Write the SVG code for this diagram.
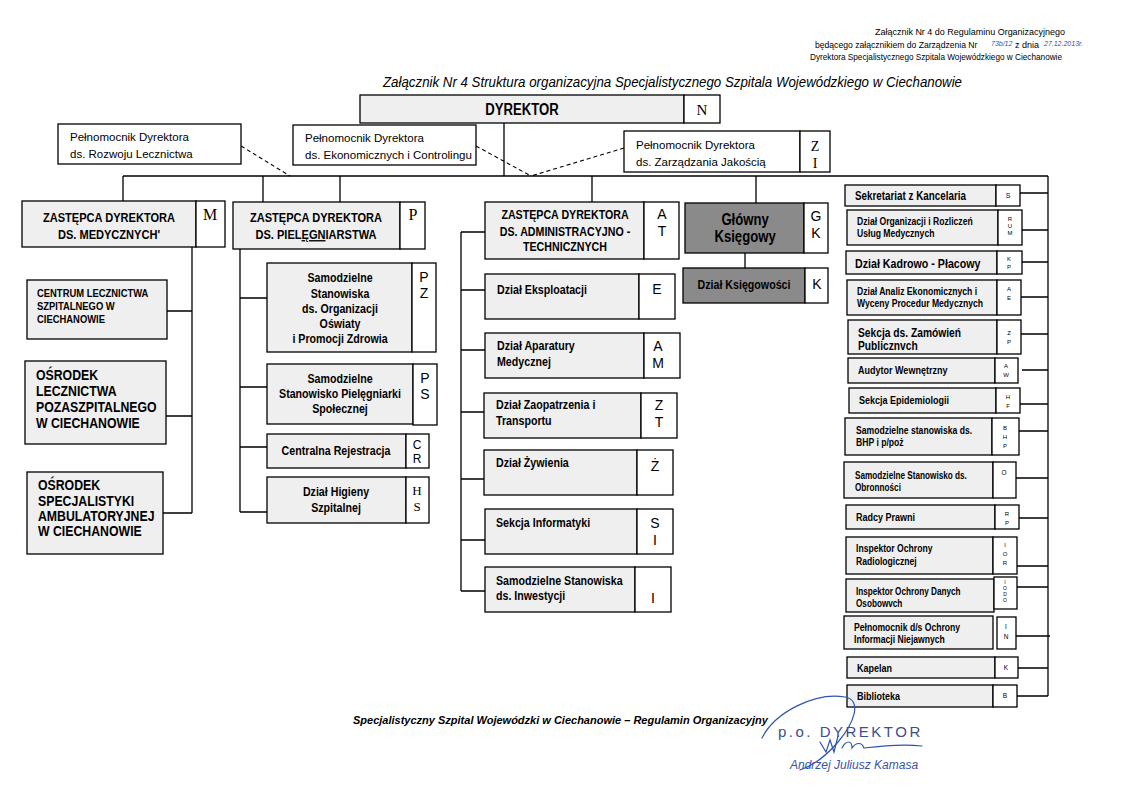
<svg xmlns="http://www.w3.org/2000/svg" width="1123" height="794" viewBox="0 0 1123 794">
<style>
.bx{fill:#efefef;stroke:#000;stroke-width:1.3}
.wb{fill:#fff;stroke:#000;stroke-width:1.3}
.dk{fill:#8a8a8a;stroke:#000;stroke-width:1.3}
.ln{fill:none;stroke:#000;stroke-width:1.3}
.ds{fill:none;stroke:#000;stroke-width:1.1;stroke-dasharray:4 3}
.n{font-family:"Liberation Sans",Arial,sans-serif;font-weight:bold;fill:#000;transform-box:fill-box;transform-origin:0 50%;transform:scaleX(0.82)}
.n.c{transform-origin:50% 50%}
.r{font-family:"Liberation Sans",Arial,sans-serif;fill:#000}
.s{font-family:"Liberation Serif","Times New Roman",serif;fill:#000}
.c{text-anchor:middle}
.hw{font-family:"Liberation Sans",Arial,sans-serif;font-style:italic;fill:#3050b0}
.sig{fill:none;stroke:#2f55b0;stroke-width:1.2;stroke-linecap:round}
</style>

<g id="header">
<text class="r" x="875" y="35" font-size="9.5" textLength="190" lengthAdjust="spacingAndGlyphs">Załącznik Nr 4 do Regulaminu Organizacyjnego</text>
<text class="r" x="815" y="48" font-size="8.6">będącego załącznikiem do Zarządzenia Nr</text>
<text class="hw" x="991" y="46" font-size="7">73b/12</text>
<text class="r" x="1015" y="48" font-size="9">z dnia</text>
<text class="hw" x="1044" y="46" font-size="7">27.12.2013r.</text>
<text class="r" x="810" y="60" font-size="9.5" textLength="252" lengthAdjust="spacingAndGlyphs">Dyrektora Specjalistycznego Szpitala Wojewódzkiego w Ciechanowie</text>
<text class="r" x="383" y="87" font-size="14" font-style="italic" textLength="579" lengthAdjust="spacingAndGlyphs">Załącznik Nr 4 Struktura organizacyjna Specjalistycznego Szpitala Wojewódzkiego w Ciechanowie</text>
</g>

<g id="connectors">
<path class="ln" d="M504,123 V176 M123,176 H1048 M123,176 V201 M263,176 V202 M340,176 V202 M592,176 V202 M756,176 V203 M1048,176 V696"/>
<path class="ds" d="M241,146 L290,176 M476,146 L531,176 M624,148 L531,176"/>
<path class="ln" d="M192,247 V513 M167,311 H192 M166,416 H192 M163,513 H192"/>
<path class="ln" d="M240,249 V512 M240,298 H267 M240,387 H267 M240,447 H267 M240,512 H267"/>
<path class="ln" d="M461,232 V591 M461,232 H485 M461,290 H485 M461,350 H485 M461,412 H484 M461,479 H484 M461,540 H485 M461,591 H485"/>
<path class="ln" d="M745,253 V268"/>
<path class="ln" d="M1020,193 H1048 M1022,230 H1048 M1022,262 H1048 M1021,297 H1048 M1021,334 H1048 M1022,370 H1048 M1020,404 H1048 M1019,431 H1048 M1016,478 H1048 M1019,518 H1048 M1017,566 H1048 M1017,587 H1048 M1016,636 H1050 M1018,668 H1048 M1017,696 H1048"/>
</g>

<g id="dyrektor">
<rect class="bx" x="360" y="95" width="324" height="28"/><rect class="wb" x="684" y="95" width="36" height="28"/>
<text class="n c" x="522" y="115" font-size="16">DYREKTOR</text>
<text class="s c" x="702" y="115" font-size="15">N</text>
</g>
<g id="pelnomocnik-rozwoju">
<rect class="wb" x="58" y="124" width="183" height="40"/>
<text class="r" x="70" y="141" font-size="11.5">Pełnomocnik Dyrektora</text>
<text class="r" x="70" y="158" font-size="11.5">ds. Rozwoju Lecznictwa</text>
</g>
<g id="pelnomocnik-ekonomicznych">
<rect class="wb" x="293" y="125" width="183" height="40"/>
<text class="r" x="305" y="142" font-size="11.5">Pełnomocnik Dyrektora</text>
<text class="r" x="305" y="159" font-size="11.5">ds. Ekonomicznych i Controlingu</text>
</g>
<g id="pelnomocnik-jakosci">
<rect class="wb" x="624" y="131" width="176" height="41"/><rect class="wb" x="800" y="131" width="30" height="41"/>
<text class="r" x="636" y="149" font-size="11.5">Pełnomocnik Dyrektora</text>
<text class="r" x="636" y="166" font-size="11.5">ds. Zarządzania Jakością</text>
<text class="s c" x="815" y="151" font-size="14">Z</text>
<text class="s c" x="815" y="168" font-size="14">I</text>
</g>

<g id="zdm">
<rect class="bx" x="22" y="201" width="174" height="46"/><rect class="wb" x="196" y="201" width="29" height="46"/>
<text class="n c" x="109" y="222" font-size="13.5">ZASTĘPCA DYREKTORA</text>
<text class="n c" x="109" y="239" font-size="13.5">DS. MEDYCZNYCH'</text>
<text class="s c" x="210" y="220" font-size="16">M</text>
</g>
<g id="centrum">
<rect class="bx" x="27" y="280" width="140" height="59"/>
<text class="n" x="37" y="297" font-size="11.5">CENTRUM LECZNICTWA</text>
<text class="n" x="37" y="310" font-size="11.5">SZPITALNEGO W</text>
<text class="n" x="37" y="323" font-size="11.5">CIECHANOWIE</text>
</g>
<g id="osrodek-lecznictwa">
<rect class="bx" x="25" y="361" width="141" height="83"/>
<text class="n" x="36" y="380" font-size="15">OŚRODEK</text>
<text class="n" x="36" y="396" font-size="15">LECZNICTWA</text>
<text class="n" x="36" y="412" font-size="15">POZASZPITALNEGO</text>
<text class="n" x="36" y="428" font-size="15">W CIECHANOWIE</text>
</g>
<g id="osrodek-specjalistyki">
<rect class="bx" x="27" y="472" width="136" height="82"/>
<text class="n" x="38" y="490" font-size="15">OŚRODEK</text>
<text class="n" x="38" y="506" font-size="15">SPECJALISTYKI</text>
<text class="n" x="38" y="521" font-size="15">AMBULATORYJNEJ</text>
<text class="n" x="38" y="536" font-size="15">W CIECHANOWIE</text>
</g>

<g id="zdp">
<rect class="bx" x="233" y="202" width="167" height="47"/><rect class="wb" x="400" y="202" width="25" height="47"/>
<text class="n c" x="316" y="222" font-size="13.5">ZASTĘPCA  DYREKTORA</text>
<text class="n c" x="316" y="239" font-size="13.5">DS. PIEL<tspan text-decoration="underline">ĘGN</tspan>IARSTWA</text>
<text class="s c" x="413" y="220" font-size="16">P</text>
</g>
<g id="pz">
<rect class="bx" x="267" y="263" width="145" height="89"/><rect class="wb" x="412" y="263" width="24" height="89"/>
<text class="n c" x="340" y="282" font-size="13">Samodzielne</text>
<text class="n c" x="340" y="298" font-size="13">Stanowiska</text>
<text class="n c" x="340" y="313" font-size="13">ds.  Organizacji</text>
<text class="n c" x="340" y="328" font-size="13">Oświaty</text>
<text class="n c" x="340" y="343" font-size="13">i Promocji Zdrowia</text>
<text class="r c" x="424" y="282" font-size="14">P</text>
<text class="r c" x="424" y="298" font-size="14">Z</text>
</g>
<g id="ps">
<rect class="bx" x="267" y="364" width="146" height="60"/><rect class="wb" x="413" y="364" width="24" height="61"/>
<text class="n c" x="340" y="383" font-size="13">Samodzielne</text>
<text class="n c" x="340" y="398" font-size="13">Stanowisko Pielęgniarki</text>
<text class="n c" x="340" y="413" font-size="13">Społecznej</text>
<text class="r c" x="425" y="383" font-size="14">P</text>
<text class="r c" x="425" y="399" font-size="14">S</text>
</g>
<g id="cr">
<rect class="bx" x="267" y="434" width="139" height="34"/><rect class="wb" x="406" y="434" width="23" height="34"/>
<text class="n c" x="336" y="455" font-size="13">Centralna Rejestracja</text>
<text class="r c" x="417" y="449" font-size="12">C</text>
<text class="r c" x="417" y="463" font-size="12">R</text>
</g>
<g id="hs">
<rect class="bx" x="267" y="477" width="139" height="46"/><rect class="wb" x="406" y="477" width="23" height="46"/>
<text class="n c" x="336" y="496" font-size="13">Dział Higieny</text>
<text class="n c" x="336" y="512" font-size="13">Szpitalnej</text>
<text class="s c" x="417" y="495" font-size="13">H</text>
<text class="s c" x="417" y="511" font-size="13">S</text>
</g>

<g id="at">
<rect class="bx" x="485" y="202" width="159" height="57"/><rect class="wb" x="644" y="202" width="35" height="57"/>
<text class="n c" x="565" y="219" font-size="13">ZASTĘPCA DYREKTORA</text>
<text class="n c" x="565" y="236" font-size="13">DS. ADMINISTRACYJNO -</text>
<text class="n c" x="565" y="251" font-size="13">TECHNICZNYCH</text>
<text class="r c" x="662" y="219" font-size="14">A</text>
<text class="r c" x="662" y="236" font-size="14">T</text>
</g>
<g id="e">
<rect class="bx" x="485" y="274" width="154" height="45"/><rect class="wb" x="639" y="274" width="36" height="45"/>
<text class="n" x="497" y="294" font-size="13">Dział Eksploatacji</text>
<text class="r c" x="657" y="294" font-size="14">E</text>
</g>
<g id="am">
<rect class="bx" x="485" y="333" width="159" height="45"/><rect class="wb" x="644" y="333" width="36" height="45"/>
<text class="n" x="497" y="350" font-size="13">Dział Aparatury</text>
<text class="n" x="497" y="366" font-size="13">Medycznej</text>
<text class="r c" x="658" y="351" font-size="14">A</text>
<text class="r c" x="658" y="368" font-size="14">M</text>
</g>
<g id="zt">
<rect class="bx" x="484" y="393" width="157" height="45"/><rect class="wb" x="641" y="393" width="36" height="45"/>
<text class="n" x="496" y="409" font-size="13">Dział Zaopatrzenia i</text>
<text class="n" x="496" y="425" font-size="13">Transportu</text>
<text class="r c" x="659" y="410" font-size="14">Z</text>
<text class="r c" x="659" y="427" font-size="14">T</text>
</g>
<g id="zywienie">
<rect class="bx" x="484" y="450" width="153" height="45"/><rect class="wb" x="637" y="450" width="36" height="45"/>
<text class="n" x="496" y="467" font-size="13">Dział  Żywienia</text>
<text class="r c" x="655" y="471" font-size="14">Ż</text>
</g>
<g id="si">
<rect class="bx" x="485" y="509" width="152" height="45"/><rect class="wb" x="637" y="509" width="36" height="45"/>
<text class="n" x="496" y="527" font-size="13">Sekcja Informatyki</text>
<text class="r c" x="655" y="528" font-size="14">S</text>
<text class="r c" x="655" y="545" font-size="14">I</text>
</g>
<g id="inwestycje">
<rect class="bx" x="485" y="567" width="150" height="45"/><rect class="wb" x="635" y="567" width="36" height="45"/>
<text class="n" x="496" y="585" font-size="13">Samodzielne Stanowiska</text>
<text class="n" x="496" y="600" font-size="13">ds. Inwestycji</text>
<text class="r c" x="653" y="603" font-size="14">I</text>
</g>

<g id="gk">
<rect class="dk" x="685" y="203" width="119" height="50"/><rect class="wb" x="804" y="203" width="24" height="50"/>
<text class="n c" x="745" y="225" font-size="16">Główny</text>
<text class="n c" x="745" y="242" font-size="16">Księgowy</text>
<text class="r c" x="816" y="221" font-size="14">G</text>
<text class="r c" x="816" y="238" font-size="14">K</text>
</g>
<g id="ksiegowosc">
<rect class="dk" x="683" y="268" width="122" height="35"/><rect class="wb" x="805" y="268" width="23" height="35"/>
<text class="n c" x="744" y="289" font-size="13">Dział Księgowości</text>
<text class="r c" x="817" y="289" font-size="14">K</text>
</g>

<g id="sekretariat">
<rect class="bx" x="845" y="185" width="151" height="21"/><rect class="wb" x="996" y="185" width="24" height="21"/>
<text class="n" x="855" y="200" font-size="12">Sekretariat z Kancelaria</text>
<text class="r c" x="1008" y="198" font-size="7">S</text>
</g>
<g id="rum">
<rect class="bx" x="847" y="210" width="151" height="35"/><rect class="wb" x="998" y="210" width="24" height="35"/>
<text class="n" x="857" y="225" font-size="10.5">Dział Organizacji i Rozliczeń</text>
<text class="n" x="857" y="237" font-size="10.5">Usług Medycznych</text>
<text class="r c" x="1010" y="221" font-size="6">R</text>
<text class="r c" x="1010" y="228" font-size="6">U</text>
<text class="r c" x="1010" y="235" font-size="6">M</text>
</g>
<g id="kp">
<rect class="bx" x="846" y="251" width="151" height="23"/><rect class="wb" x="997" y="251" width="25" height="23"/>
<text class="n" x="855" y="268" font-size="13">Dział Kadrowo - Płacowy</text>
<text class="r c" x="1009" y="261" font-size="6">K</text>
<text class="r c" x="1009" y="269" font-size="6">P</text>
</g>
<g id="ae">
<rect class="bx" x="847" y="280" width="150" height="35"/><rect class="wb" x="997" y="280" width="24" height="35"/>
<text class="n" x="857" y="295" font-size="10.5">Dział Analiz Ekonomicznych i</text>
<text class="n" x="857" y="307" font-size="10.5">Wyceny Procedur Medycznych</text>
<text class="r c" x="1009" y="291" font-size="6">A</text>
<text class="r c" x="1009" y="300" font-size="6">E</text>
</g>
<g id="zp">
<rect class="bx" x="848" y="320" width="149" height="34"/><rect class="wb" x="997" y="320" width="24" height="34"/>
<text class="n" x="858" y="337" font-size="12.5">Sekcja ds. Zamówień</text>
<text class="n" x="858" y="350" font-size="12.5">Publicznvch</text>
<text class="r c" x="1009" y="335" font-size="6">Z</text>
<text class="r c" x="1009" y="344" font-size="6">P</text>
</g>
<g id="aw">
<rect class="bx" x="848" y="358" width="147" height="25"/><rect class="wb" x="995" y="358" width="23" height="25"/>
<text class="n" x="858" y="374" font-size="11">Audytor Wewnętrzny</text>
<text class="r c" x="1006" y="368" font-size="6">A</text>
<text class="r c" x="1006" y="377" font-size="6">W</text>
</g>
<g id="hf">
<rect class="bx" x="849" y="388" width="147" height="25"/><rect class="wb" x="996" y="388" width="24" height="25"/>
<text class="n" x="859" y="404" font-size="11">Sekcja Epidemiologii</text>
<text class="r c" x="1008" y="399" font-size="6">H</text>
<text class="r c" x="1008" y="408" font-size="6">F</text>
</g>
<g id="bhp">
<rect class="bx" x="845" y="418" width="147" height="37"/><rect class="wb" x="992" y="418" width="27" height="37"/>
<text class="n" x="856" y="434" font-size="10.5">Samodzielne stanowiska ds.</text>
<text class="n" x="856" y="446" font-size="10.5">BHP i p/poż</text>
<text class="r c" x="1005" y="430" font-size="6">B</text>
<text class="r c" x="1005" y="439" font-size="6">H</text>
<text class="r c" x="1005" y="448" font-size="6">P</text>
</g>
<g id="obronnosc">
<rect class="bx" x="844" y="462" width="149" height="36"/><rect class="wb" x="993" y="462" width="23" height="36"/>
<text class="n" x="855" y="479" font-size="10">Samodzielne Stanowisko ds.</text>
<text class="n" x="855" y="491" font-size="10">Obronności</text>
<text class="r c" x="1004" y="475" font-size="6.5">O</text>
</g>
<g id="rp">
<rect class="bx" x="846" y="505" width="149" height="24"/><rect class="wb" x="995" y="505" width="24" height="24"/>
<text class="n" x="856" y="521" font-size="11">Radcy Prawni</text>
<text class="r c" x="1007" y="516" font-size="6">R</text>
<text class="r c" x="1007" y="525" font-size="6">P</text>
</g>
<g id="ior">
<rect class="bx" x="846" y="537" width="147" height="37"/><rect class="wb" x="993" y="537" width="24" height="37"/>
<text class="n" x="856" y="552" font-size="10.5">Inspektor Ochrony</text>
<text class="n" x="856" y="565" font-size="10.5">Radiologicznej</text>
<text class="r c" x="1005" y="547" font-size="6">I</text>
<text class="r c" x="1005" y="556" font-size="6">O</text>
<text class="r c" x="1005" y="565" font-size="6">R</text>
</g>
<g id="iodo">
<rect class="bx" x="846" y="579" width="148" height="33"/><rect class="wb" x="994" y="577" width="23" height="32"/>
<text class="n" x="856" y="595" font-size="10">Inspektor Ochrony Danych</text>
<text class="n" x="856" y="607" font-size="10">Osobowvch</text>
<text class="r c" x="1005" y="584" font-size="5">I</text>
<text class="r c" x="1005" y="590" font-size="5">O</text>
<text class="r c" x="1005" y="596" font-size="5">D</text>
<text class="r c" x="1005" y="602" font-size="5">O</text>
</g>
<g id="in">
<rect class="bx" x="844" y="616" width="149" height="33"/><rect class="wb" x="997" y="617" width="19" height="32"/>
<text class="n" x="854" y="631" font-size="10.5">Pełnomocnik d/s Ochrony</text>
<text class="n" x="854" y="643" font-size="10.5">Informacji Niejawnych</text>
<text class="r c" x="1006" y="629" font-size="6.5">I</text>
<text class="r c" x="1006" y="639" font-size="6.5">N</text>
</g>
<g id="kapelan">
<rect class="bx" x="847" y="657" width="148" height="21"/><rect class="wb" x="995" y="657" width="23" height="21"/>
<text class="n" x="857" y="672" font-size="11">Kapelan</text>
<text class="r c" x="1006" y="670" font-size="6.5">K</text>
</g>
<g id="biblioteka">
<rect class="bx" x="847" y="685" width="146" height="22"/><rect class="wb" x="993" y="685" width="24" height="22"/>
<text class="n" x="857" y="700" font-size="11">Biblioteka</text>
<text class="r c" x="1005" y="698" font-size="6.5">B</text>
</g>

<g id="footer">
<text class="r" x="353" y="724" font-size="11" font-weight="bold" font-style="italic">Specjalistyczny Szpital Wojewódzki w Ciechanowie – Regulamin Organizacyjny</text>
<path class="sig" d="M762,738 C775,712 815,692 845,697 C862,700 855,722 838,742 C826,756 812,766 800,770"/>
<path class="sig" d="M820,742 L826,752 L830,740 L834,752 L838,736 M842,748 C846,740 852,740 852,748 C856,742 862,742 864,748 C880,746 905,744 922,746"/>
<text x="778" y="737" font-family="Liberation Sans,Arial,sans-serif" font-size="15" letter-spacing="2.5" fill="#3b4f8c">p.o. DYREKTOR</text>
<text x="790" y="769" font-family="Liberation Sans,Arial,sans-serif" font-style="italic" font-size="12" fill="#3556a8">Andrzej Juliusz Kamasa</text>
</g>
</svg>
